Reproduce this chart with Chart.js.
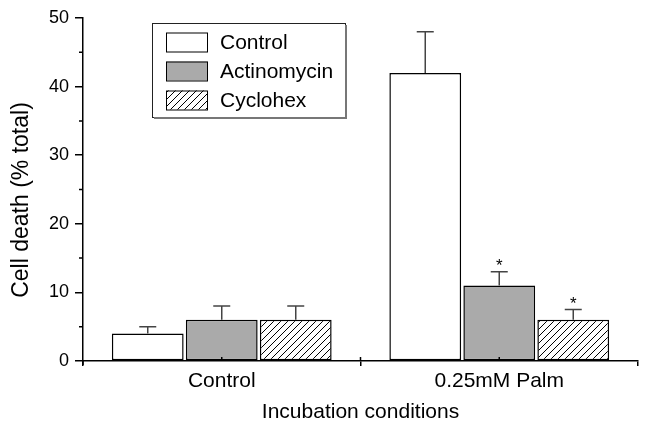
<!DOCTYPE html>
<html>
<head>
<meta charset="utf-8">
<script src="https://cdn.jsdelivr.net/npm/chart.js@4.4.1/dist/chart.umd.min.js"></script>
<style>
  html, body { margin: 0; padding: 0; background: #fff; }
  #wrap { width: 645px; height: 427px; }
</style>
</head>
<body>
<div id="wrap"><canvas id="deathChart" width="645" height="427"></canvas></div>
<script>
// values
const categories = ['Control', '0.25mM Palm'];
const seriesNames = ['Control', 'Actinomycin', 'Cyclohex'];
const controlValues = [4, 42];
const actinomycinValues = [6, 11];
const cyclohexValues = [6, 6];
const controlErrors = [1, 6];
const actinomycinErrors = [2, 2];
const cyclohexErrors = [2, 1.5];
const controlSignificant = [false, false];
const actinomycinSignificant = [false, true];
const cyclohexSignificant = [false, true];
const yTicks = [0, 10, 20, 30, 40, 50];
const yMinorTicks = [5, 15, 25, 35, 45];
const yTitle = 'Cell death (% total)';

const FONT = '"Liberation Sans", Arial, Helvetica, sans-serif';

function makeHatch(ctx) {
    const c = document.createElement('canvas');
    c.width = 7; c.height = 7;
    const g = c.getContext('2d');
    g.fillStyle = '#fff';
    g.fillRect(0, 0, 7, 7);
    g.strokeStyle = '#000';
    g.lineWidth = 1;
    g.beginPath();
    g.moveTo(-1, 8); g.lineTo(8, -1);
    g.moveTo(-1, 1); g.lineTo(1, -1);
    g.moveTo(6, 8); g.lineTo(8, 6);
    g.stroke();
    return ctx.createPattern(c, 'repeat');
}

const extrasPlugin = {
    id: 'extras',
    afterDatasetsDraw(chart) {
        const ctx = chart.ctx;
        const y = chart.scales.y;
        const x = chart.scales.x;
        const area = chart.chartArea;
        ctx.save();

        // error bars (upper only) + asterisks
        chart.data.datasets.forEach((ds, i) => {
            const meta = chart.getDatasetMeta(i);
            meta.data.forEach((bar, j) => {
                const top = y.getPixelForValue(ds.data[j] + ds.errors[j]);
                ctx.strokeStyle = '#444';
                ctx.lineWidth = 1.5;
                ctx.beginPath();
                ctx.moveTo(bar.x, bar.y);
                ctx.lineTo(bar.x, top);
                ctx.moveTo(bar.x - 8.5, top);
                ctx.lineTo(bar.x + 8.5, top);
                ctx.stroke();
                if (ds.significant[j]) {
                    ctx.fillStyle = '#000';
                    ctx.font = '17px ' + FONT;
                    ctx.textAlign = 'center';
                    ctx.textBaseline = 'alphabetic';
                    ctx.fillText('*', bar.x, top - 0.5);
                }
            });
        });

        // minor y ticks
        ctx.strokeStyle = '#000';
        ctx.lineWidth = 1.5;
        ctx.beginPath();
        yMinorTicks.forEach(v => {
            const py = y.getPixelForValue(v);
            ctx.moveTo(area.left - 4, py);
            ctx.lineTo(area.left, py);
        });
        // small inward ticks at category centres and boundaries
        [0, 0.5, 1].forEach(v => {
            const px = x.getPixelForValue(v);
            ctx.moveTo(px, area.bottom);
            ctx.lineTo(px, area.bottom - 4);
        });
        ctx.moveTo(area.left, area.bottom);
        ctx.lineTo(area.left, area.bottom + 4);
        ctx.stroke();

        // y axis title
        ctx.save();
        ctx.translate(22, 200);
        ctx.rotate(-Math.PI / 2);
        ctx.fillStyle = '#000';
        ctx.font = '23px ' + FONT;
        ctx.textAlign = 'center';
        ctx.textBaseline = 'middle';
        ctx.fillText(yTitle, 0, 0);
        ctx.restore();

        // legend box
        const lx = 152, ly = 23, lw = 193, lh = 94;
        ctx.fillStyle = '#fff';
        ctx.fillRect(lx, ly, lw, lh);
        ctx.strokeStyle = '#222';
        ctx.lineWidth = 1;
        ctx.strokeRect(lx + 0.5, ly + 0.5, lw, lh);
        ctx.strokeStyle = '#777';
        ctx.lineWidth = 2;
        ctx.beginPath();
        ctx.moveTo(lx + lw + 1, ly + 2);
        ctx.lineTo(lx + lw + 1, ly + lh + 1);
        ctx.lineTo(lx + 2, ly + lh + 1);
        ctx.stroke();

        chart.data.datasets.forEach((ds, i) => {
            const cy = 42 + i * 29;
            ctx.fillStyle = ds.backgroundColor;
            ctx.fillRect(166, cy - 9.5, 42, 19);
            ctx.strokeStyle = '#000';
            ctx.lineWidth = 1;
            ctx.strokeRect(166.5, cy - 9, 41, 19);
            ctx.fillStyle = '#000';
            ctx.font = '21px ' + FONT;
            ctx.textAlign = 'left';
            ctx.textBaseline = 'middle';
            ctx.fillText(ds.label, 220, cy + 1);
        });
        ctx.restore();
    }
};

const canvas = document.getElementById('deathChart');
const ctx = canvas.getContext('2d');

new Chart(ctx, {
    type: 'bar',
    data: {
        labels: categories,
        datasets: [
            { label: seriesNames[0], data: controlValues, errors: controlErrors, significant: controlSignificant, backgroundColor: '#ffffff' },
            { label: seriesNames[1], data: actinomycinValues, errors: actinomycinErrors, significant: actinomycinSignificant, backgroundColor: '#aaaaaa' },
            { label: seriesNames[2], data: cyclohexValues, errors: cyclohexErrors, significant: cyclohexSignificant, backgroundColor: makeHatch(ctx) }
        ]
    },
    options: {
        responsive: false,
        animation: false,
        devicePixelRatio: 1,
        layout: { padding: { top: 18, right: 7, left: 0, bottom: 0 } },
        datasets: {
            bar: {
                borderColor: '#000',
                borderWidth: 1.5,
                borderSkipped: false,
                categoryPercentage: 0.8,
                barPercentage: 0.97
            }
        },
        plugins: {
            legend: { display: false },
            tooltip: { enabled: false }
        },
        scales: {
            x: {
                offset: true,
                afterFit: s => { s.height = 66; },
                grid: { offset: true, drawOnChartArea: false, drawTicks: true, tickLength: 5, color: '#000', lineWidth: 1.5 },
                border: { display: true, color: '#000', width: 1.5 },
                ticks: { color: '#000', font: { family: FONT, size: 21 }, padding: 3 },
                title: { display: true, text: 'Incubation conditions', color: '#000', font: { family: FONT, size: 21 }, padding: { top: 0, bottom: 2 } }
            },
            y: {
                min: 0,
                max: 50,
                afterFit: s => { s.width = 83; },
                afterBuildTicks: s => { s.ticks = yTicks.map(v => ({ value: v })); },
                grid: { drawOnChartArea: false, drawTicks: true, tickLength: 8, color: '#000', lineWidth: 1.5 },
                border: { display: true, color: '#000', width: 1.5 },
                ticks: { color: '#000', font: { family: FONT, size: 18 }, padding: 6 },
                title: { display: false }
            }
        }
    },
    plugins: [extrasPlugin]
});
</script>
</body>
</html>
